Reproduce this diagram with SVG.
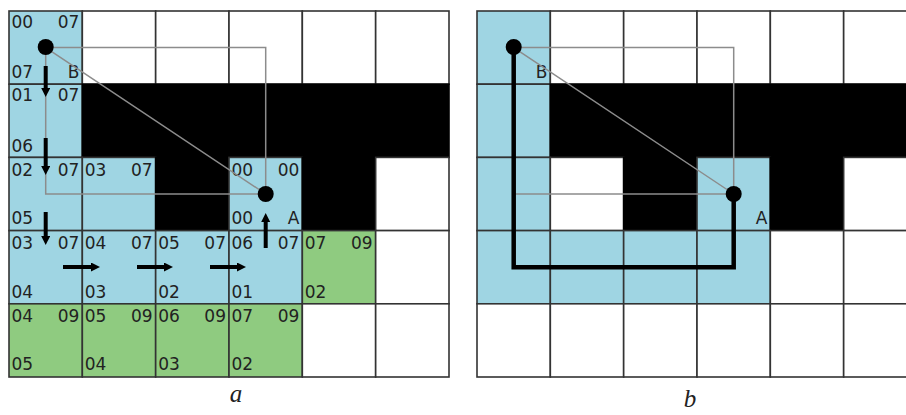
<svg xmlns="http://www.w3.org/2000/svg" width="906" height="415" viewBox="0 0 906 415">
<style>
.c{stroke:#333;stroke-width:1.6}
.w{fill:#fff}
.k{fill:#000;stroke:#000}
.bl{fill:#9fd5e3}
.gr{fill:#8fcb80}
.t{font-family:"DejaVu Sans",Verdana,sans-serif;font-size:17px;fill:#222}
.r{text-anchor:end}
.gl{fill:none;stroke:#8c8c8c;stroke-width:1.5}
.ar{stroke:#000;stroke-width:4;fill:none;marker-end:url(#ah)}
.cap{font-family:"Liberation Serif","Times New Roman",serif;font-style:italic;font-size:25px;fill:#222;text-anchor:middle}
</style>
<defs>
<marker id="ah" markerUnits="userSpaceOnUse" markerWidth="10" markerHeight="10" refX="1" refY="4.5" orient="auto"><path d="M0,0 L9,4.5 L0,9 z" fill="#000"/></marker>
</defs>
<rect width="906" height="415" fill="#fff"/>

<g id="gridA">
<rect class="c bl" x="9" y="11" width="73.33" height="73.2"/>
<rect class="c w" x="82.33" y="11" width="73.33" height="73.2"/>
<rect class="c w" x="155.67" y="11" width="73.33" height="73.2"/>
<rect class="c w" x="229" y="11" width="73.33" height="73.2"/>
<rect class="c w" x="302.33" y="11" width="73.33" height="73.2"/>
<rect class="c w" x="375.67" y="11" width="73.33" height="73.2"/>
<rect class="c bl" x="9" y="84.2" width="73.33" height="73.2"/>
<rect class="c k" x="82.33" y="84.2" width="366.67" height="73.2"/>
<rect class="c bl" x="9" y="157.4" width="73.33" height="73.2"/>
<rect class="c bl" x="82.33" y="157.4" width="73.33" height="73.2"/>
<rect class="c k" x="155.67" y="157.4" width="73.33" height="73.2"/>
<rect class="c bl" x="229" y="157.4" width="73.33" height="73.2"/>
<rect class="c k" x="302.33" y="157.4" width="73.33" height="73.2"/>
<rect class="c w" x="375.67" y="157.4" width="73.33" height="73.2"/>
<rect class="c bl" x="9" y="230.6" width="73.33" height="73.2"/>
<rect class="c bl" x="82.33" y="230.6" width="73.33" height="73.2"/>
<rect class="c bl" x="155.67" y="230.6" width="73.33" height="73.2"/>
<rect class="c bl" x="229" y="230.6" width="73.33" height="73.2"/>
<rect class="c gr" x="302.33" y="230.6" width="73.33" height="73.2"/>
<rect class="c w" x="375.67" y="230.6" width="73.33" height="73.2"/>
<rect class="c gr" x="9" y="303.8" width="73.33" height="73.2"/>
<rect class="c gr" x="82.33" y="303.8" width="73.33" height="73.2"/>
<rect class="c gr" x="155.67" y="303.8" width="73.33" height="73.2"/>
<rect class="c gr" x="229" y="303.8" width="73.33" height="73.2"/>
<rect class="c w" x="302.33" y="303.8" width="73.33" height="73.2"/>
<rect class="c w" x="375.67" y="303.8" width="73.33" height="73.2"/>
</g>

<g id="labelsA">
<text class="t" x="11.5" y="28">00</text><text class="t r" x="79.3" y="28">07</text>
<text class="t" x="11.5" y="78">07</text><text class="t r" x="79.3" y="78">B</text>
<text class="t" x="11.5" y="101">01</text><text class="t r" x="79.3" y="101">07</text>
<text class="t" x="11.5" y="152">06</text>
<text class="t" x="11.5" y="176">02</text><text class="t r" x="79.3" y="176">07</text>
<text class="t" x="11.5" y="224">05</text>
<text class="t" x="84.8" y="176">03</text><text class="t r" x="152.7" y="176">07</text>
<text class="t" x="231.5" y="176">00</text><text class="t r" x="299.3" y="176">00</text>
<text class="t" x="231.5" y="224">00</text><text class="t r" x="299.3" y="224">A</text>
<text class="t" x="11.5" y="249">03</text><text class="t r" x="79.3" y="249">07</text>
<text class="t" x="11.5" y="298">04</text>
<text class="t" x="84.8" y="249">04</text><text class="t r" x="152.7" y="249">07</text>
<text class="t" x="84.8" y="298">03</text>
<text class="t" x="158.2" y="249">05</text><text class="t r" x="226" y="249">07</text>
<text class="t" x="158.2" y="298">02</text>
<text class="t" x="231.5" y="249">06</text><text class="t r" x="299.3" y="249">07</text>
<text class="t" x="231.5" y="298">01</text>
<text class="t" x="304.8" y="249">07</text><text class="t r" x="372.7" y="249">09</text>
<text class="t" x="304.8" y="298">02</text>
<text class="t" x="11.5" y="322">04</text><text class="t r" x="79.3" y="322">09</text>
<text class="t" x="11.5" y="370">05</text>
<text class="t" x="84.8" y="322">05</text><text class="t r" x="152.7" y="322">09</text>
<text class="t" x="84.8" y="370">04</text>
<text class="t" x="158.2" y="322">06</text><text class="t r" x="226" y="322">09</text>
<text class="t" x="158.2" y="370">03</text>
<text class="t" x="231.5" y="322">07</text><text class="t r" x="299.3" y="322">09</text>
<text class="t" x="231.5" y="370">02</text>
</g>

<g id="gridB">
<rect class="c bl" x="477" y="11" width="73.33" height="73.2"/>
<rect class="c w" x="550.33" y="11" width="73.33" height="73.2"/>
<rect class="c w" x="623.67" y="11" width="73.33" height="73.2"/>
<rect class="c w" x="697" y="11" width="73.33" height="73.2"/>
<rect class="c w" x="770.33" y="11" width="73.33" height="73.2"/>
<rect class="c w" x="843.67" y="11" width="73.33" height="73.2"/>
<rect class="c bl" x="477" y="84.2" width="73.33" height="73.2"/>
<rect class="c k" x="550.33" y="84.2" width="366.67" height="73.2"/>
<rect class="c bl" x="477" y="157.4" width="73.33" height="73.2"/>
<rect class="c w" x="550.33" y="157.4" width="73.33" height="73.2"/>
<rect class="c k" x="623.67" y="157.4" width="73.33" height="73.2"/>
<rect class="c bl" x="697" y="157.4" width="73.33" height="73.2"/>
<rect class="c k" x="770.33" y="157.4" width="73.33" height="73.2"/>
<rect class="c w" x="843.67" y="157.4" width="73.33" height="73.2"/>
<rect class="c bl" x="477" y="230.6" width="73.33" height="73.2"/>
<rect class="c bl" x="550.33" y="230.6" width="73.33" height="73.2"/>
<rect class="c bl" x="623.67" y="230.6" width="73.33" height="73.2"/>
<rect class="c bl" x="697" y="230.6" width="73.33" height="73.2"/>
<rect class="c w" x="770.33" y="230.6" width="73.33" height="73.2"/>
<rect class="c w" x="843.67" y="230.6" width="73.33" height="73.2"/>
<rect class="c w" x="477" y="303.8" width="73.33" height="73.2"/>
<rect class="c w" x="550.33" y="303.8" width="73.33" height="73.2"/>
<rect class="c w" x="623.67" y="303.8" width="73.33" height="73.2"/>
<rect class="c w" x="697" y="303.8" width="73.33" height="73.2"/>
<rect class="c w" x="770.33" y="303.8" width="73.33" height="73.2"/>
<rect class="c w" x="843.67" y="303.8" width="73.33" height="73.2"/>
<text class="t r" x="547.3" y="78">B</text>
<text class="t r" x="767.3" y="224">A</text>
</g>

<g id="connectors">
<path class="gl" d="M45.7,47.6 H265.7 V194 H45.7 Z M45.7,47.6 L265.7,194"/>
<path class="gl" d="M513.7,47.6 H733.7 V194 H513.7 Z M513.7,47.6 L733.7,194"/>
<line class="ar" x1="45.7" y1="66" x2="45.7" y2="89"/>
<line class="ar" x1="45.7" y1="138" x2="45.7" y2="167"/>
<line class="ar" x1="45.7" y1="212" x2="45.7" y2="237"/>
<line class="ar" x1="63" y1="267" x2="92" y2="267"/>
<line class="ar" x1="137" y1="267" x2="165" y2="267"/>
<line class="ar" x1="210" y1="267" x2="238" y2="267"/>
<line class="ar" x1="265.7" y1="248" x2="265.7" y2="221"/>
<path d="M513.7,47.6 V267.2 H733.7 V194" fill="none" stroke="#000" stroke-width="4.5"/>
</g>

<g id="points">
<circle cx="45.7" cy="47" r="8" fill="#000"/>
<circle cx="265.7" cy="194" r="8" fill="#000"/>
<circle cx="513.7" cy="47" r="8" fill="#000"/>
<circle cx="733.7" cy="194" r="8" fill="#000"/>
</g>

<g id="captions">
<text class="cap" x="236" y="402">a</text>
<text class="cap" x="690" y="407">b</text>
</g>
</svg>
